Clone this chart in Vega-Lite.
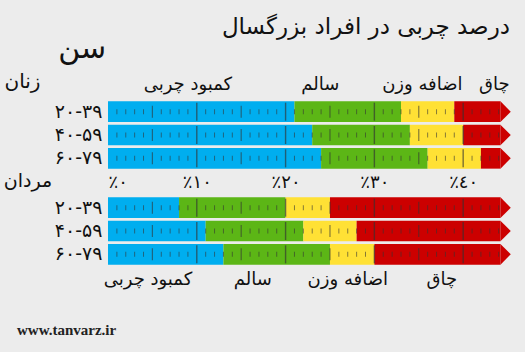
{
  "$schema": "https://vega.github.io/schema/vega-lite/v6.json",
  "autosize": {"type": "none"},
  "width": 404,
  "height": 166,
  "padding": {"left": 108, "top": 100, "right": 13, "bottom": 86},
  "background": "#ececec",
  "title": {"text": "درصد چربی در افراد بزرگسال", "anchor": "end", "frame": "group", "font": "DejaVu Sans", "fontSize": 23, "fontWeight": "normal", "color": "#111", "offset": 4, "dx": -2, "dy": 9},
  "config": {"view": {"stroke": null}, "font": "DejaVu Sans", "text": {"font": "DejaVu Sans", "color": "#111"}},
  "datasets": {
    "women": [
      {"age": "۲۰-۳۹", "category": "کمبود چربی", "start": 0, "end": 21},
      {"age": "۲۰-۳۹", "category": "سالم", "start": 21, "end": 33},
      {"age": "۲۰-۳۹", "category": "اضافه وزن", "start": 33, "end": 39},
      {"age": "۲۰-۳۹", "category": "چاق", "start": 39, "end": 44.2},
      {"age": "۴۰-۵۹", "category": "کمبود چربی", "start": 0, "end": 23},
      {"age": "۴۰-۵۹", "category": "سالم", "start": 23, "end": 34},
      {"age": "۴۰-۵۹", "category": "اضافه وزن", "start": 34, "end": 40},
      {"age": "۴۰-۵۹", "category": "چاق", "start": 40, "end": 44.2},
      {"age": "۶۰-۷۹", "category": "کمبود چربی", "start": 0, "end": 24},
      {"age": "۶۰-۷۹", "category": "سالم", "start": 24, "end": 36},
      {"age": "۶۰-۷۹", "category": "اضافه وزن", "start": 36, "end": 42},
      {"age": "۶۰-۷۹", "category": "چاق", "start": 42, "end": 44.2}
    ],
    "men": [
      {"age": "۲۰-۳۹", "category": "کمبود چربی", "start": 0, "end": 8},
      {"age": "۲۰-۳۹", "category": "سالم", "start": 8, "end": 20},
      {"age": "۲۰-۳۹", "category": "اضافه وزن", "start": 20, "end": 25},
      {"age": "۲۰-۳۹", "category": "چاق", "start": 25, "end": 44.2},
      {"age": "۴۰-۵۹", "category": "کمبود چربی", "start": 0, "end": 11},
      {"age": "۴۰-۵۹", "category": "سالم", "start": 11, "end": 22},
      {"age": "۴۰-۵۹", "category": "اضافه وزن", "start": 22, "end": 28},
      {"age": "۴۰-۵۹", "category": "چاق", "start": 28, "end": 44.2},
      {"age": "۶۰-۷۹", "category": "کمبود چربی", "start": 0, "end": 13},
      {"age": "۶۰-۷۹", "category": "سالم", "start": 13, "end": 25},
      {"age": "۶۰-۷۹", "category": "اضافه وزن", "start": 25, "end": 30},
      {"age": "۶۰-۷۹", "category": "چاق", "start": 30, "end": 44.2}
    ],
    "minorTicks": [
      {"age": "۲۰-۳۹", "t": [1,2,3,4,6,7,8,9,11,12,13,14,16,17,18,19,21,22,23,24,26,27,28,29,31,32,33,34,36,37,38,39,41,42,43,44]},
      {"age": "۴۰-۵۹", "t": [1,2,3,4,6,7,8,9,11,12,13,14,16,17,18,19,21,22,23,24,26,27,28,29,31,32,33,34,36,37,38,39,41,42,43,44]},
      {"age": "۶۰-۷۹", "t": [1,2,3,4,6,7,8,9,11,12,13,14,16,17,18,19,21,22,23,24,26,27,28,29,31,32,33,34,36,37,38,39,41,42,43,44]}
    ],
    "midTicks": [
      {"age": "۲۰-۳۹", "t": [5,15,25,35]},
      {"age": "۴۰-۵۹", "t": [5,15,25,35]},
      {"age": "۶۰-۷۹", "t": [5,15,25,35]}
    ],
    "majorTicks": [
      {"age": "۲۰-۳۹", "t": [10,20,30,40]},
      {"age": "۴۰-۵۹", "t": [10,20,30,40]},
      {"age": "۶۰-۷۹", "t": [10,20,30,40]}
    ],
    "topLabels": [
      {"label": "کمبود چربی", "pct": 9.0},
      {"label": "سالم", "pct": 23.9},
      {"label": "اضافه وزن", "pct": 35.4},
      {"label": "چاق", "pct": 43.5}
    ],
    "bottomLabels": [
      {"label": "کمبود چربی", "pct": 4.5},
      {"label": "سالم", "pct": 16.3},
      {"label": "اضافه وزن", "pct": 27.0},
      {"label": "چاق", "pct": 37.6}
    ]
  },
  "resolve": {"scale": {"y": "independent"}, "axis": {"y": "independent"}},
  "layer": [
    {
      "layer": [
        {
          "data": {"name": "women"},
          "mark": {"type": "bar", "orient": "horizontal"},
          "encoding": {
            "y": {"field": "age", "type": "nominal", "sort": null,
              "scale": {"domain": ["۲۰-۳۹", "۴۰-۵۹", "۶۰-۷۹"], "range": [0, 70], "paddingInner": 0.116, "paddingOuter": 0.058},
              "axis": {"orient": "left", "title": null, "ticks": false, "domain": false, "labelFontSize": 19, "labelColor": "#111", "labelPadding": 6, "labelFont": "DejaVu Sans"}},
            "x": {"field": "start", "type": "quantitative", "scale": {"domain": [0, 45.5], "nice": false, "zero": false},
              "axis": {"orient": "bottom", "offset": -96, "title": null, "values": [0, 10, 20, 30, 40], "ticks": false, "domain": false, "grid": false, "labelFontSize": 18, "labelColor": "#111", "labelPadding": 3, "labelFont": "DejaVu Sans", "labelDx": 3,
                "labelExpr": "datum.value == 0 ? '٪٠' : datum.value == 10 ? '٪١٠' : datum.value == 20 ? '٪٢٠' : datum.value == 30 ? '٪٣٠' : '٪٤٠'"}},
            "x2": {"field": "end"},
            "color": {"field": "category", "type": "nominal", "scale": {"domain": ["کمبود چربی", "سالم", "اضافه وزن", "چاق"], "range": ["#00aeef", "#5cb616", "#ffe135", "#cc0000"]}, "legend": null}
          }
        },
        {
          "data": {"name": "women"},
          "transform": [{"filter": "datum.category == 'چاق'"}],
          "mark": {"type": "point", "shape": "M0,-1L1,0L0,1Z", "filled": true, "opacity": 1, "size": 424, "color": "#cc0000", "strokeWidth": 0},
          "encoding": {"x": {"field": "end", "type": "quantitative"}, "y": {"field": "age", "type": "nominal"}}
        },
        {
          "data": {"name": "minorTicks"},
          "transform": [{"flatten": ["t"]}],
          "mark": {"type": "tick", "size": 5, "thickness": 1, "color": "#333", "opacity": 0.6},
          "encoding": {"x": {"field": "t", "type": "quantitative"}, "y": {"field": "age", "type": "nominal"}}
        },
        {
          "data": {"name": "midTicks"},
          "transform": [{"flatten": ["t"]}],
          "mark": {"type": "tick", "size": 12, "thickness": 1.2, "color": "#333", "opacity": 0.6},
          "encoding": {"x": {"field": "t", "type": "quantitative"}, "y": {"field": "age", "type": "nominal"}}
        },
        {
          "data": {"name": "majorTicks"},
          "transform": [{"flatten": ["t"]}],
          "mark": {"type": "tick", "size": 18, "thickness": 1.4, "color": "#333", "opacity": 0.65},
          "encoding": {"x": {"field": "t", "type": "quantitative"}, "y": {"field": "age", "type": "nominal"}}
        },
        {
          "data": {"name": "topLabels"},
          "mark": {"type": "text", "fontSize": 18, "baseline": "alphabetic", "align": "center", "dy": -22},
          "encoding": {"x": {"field": "pct", "type": "quantitative"}, "y": {"datum": "۲۰-۳۹", "type": "nominal"}, "text": {"field": "label"}}
        },
        {
          "data": {"values": [{"label": "سن"}]},
          "mark": {"type": "text", "fontSize": 30, "baseline": "alphabetic", "align": "center", "dy": -54},
          "encoding": {"x": {"datum": -2.9, "type": "quantitative"}, "y": {"datum": "۲۰-۳۹", "type": "nominal"}, "text": {"field": "label"}}
        },
        {
          "data": {"values": [{"label": "زنان"}]},
          "mark": {"type": "text", "fontSize": 20, "baseline": "alphabetic", "align": "right", "dy": -24},
          "encoding": {"x": {"datum": -7.6, "type": "quantitative"}, "y": {"datum": "۲۰-۳۹", "type": "nominal"}, "text": {"field": "label"}}
        }
      ]
    },
    {
      "layer": [
        {
          "data": {"name": "men"},
          "mark": {"type": "bar", "orient": "horizontal"},
          "encoding": {
            "y": {"field": "age", "type": "nominal", "sort": null,
              "scale": {"domain": ["۲۰-۳۹", "۴۰-۵۹", "۶۰-۷۹"], "range": [96, 166], "paddingInner": 0.116, "paddingOuter": 0.058},
              "axis": {"orient": "left", "title": null, "ticks": false, "domain": false, "labelFontSize": 19, "labelColor": "#111", "labelPadding": 6, "labelFont": "DejaVu Sans"}},
            "x": {"field": "start", "type": "quantitative"},
            "x2": {"field": "end"},
            "color": {"field": "category", "type": "nominal", "legend": null}
          }
        },
        {
          "data": {"name": "men"},
          "transform": [{"filter": "datum.category == 'چاق'"}],
          "mark": {"type": "point", "shape": "M0,-1L1,0L0,1Z", "filled": true, "opacity": 1, "size": 424, "color": "#cc0000", "strokeWidth": 0},
          "encoding": {"x": {"field": "end", "type": "quantitative"}, "y": {"field": "age", "type": "nominal"}}
        },
        {
          "data": {"name": "minorTicks"},
          "transform": [{"flatten": ["t"]}],
          "mark": {"type": "tick", "size": 5, "thickness": 1, "color": "#333", "opacity": 0.6},
          "encoding": {"x": {"field": "t", "type": "quantitative"}, "y": {"field": "age", "type": "nominal"}}
        },
        {
          "data": {"name": "midTicks"},
          "transform": [{"flatten": ["t"]}],
          "mark": {"type": "tick", "size": 12, "thickness": 1.2, "color": "#333", "opacity": 0.6},
          "encoding": {"x": {"field": "t", "type": "quantitative"}, "y": {"field": "age", "type": "nominal"}}
        },
        {
          "data": {"name": "majorTicks"},
          "transform": [{"flatten": ["t"]}],
          "mark": {"type": "tick", "size": 18, "thickness": 1.4, "color": "#333", "opacity": 0.65},
          "encoding": {"x": {"field": "t", "type": "quantitative"}, "y": {"field": "age", "type": "nominal"}}
        },
        {
          "data": {"name": "bottomLabels"},
          "mark": {"type": "text", "fontSize": 18, "baseline": "alphabetic", "align": "center", "dy": 31},
          "encoding": {"x": {"field": "pct", "type": "quantitative"}, "y": {"datum": "۶۰-۷۹", "type": "nominal"}, "text": {"field": "label"}}
        },
        {
          "data": {"values": [{"label": "مردان"}]},
          "mark": {"type": "text", "fontSize": 19, "baseline": "alphabetic", "align": "right", "dy": -21},
          "encoding": {"x": {"datum": -6.3, "type": "quantitative"}, "y": {"datum": "۲۰-۳۹", "type": "nominal"}, "text": {"field": "label"}}
        },
        {
          "data": {"values": [{"label": "www.tanvarz.ir"}]},
          "mark": {"type": "text", "fontSize": 15, "font": "Liberation Serif", "fontWeight": "bold", "baseline": "alphabetic", "align": "left", "dy": 81, "color": "#222"},
          "encoding": {"x": {"datum": -10.25, "type": "quantitative"}, "y": {"datum": "۶۰-۷۹", "type": "nominal"}, "text": {"field": "label"}}
        }
      ]
    }
  ]
}
